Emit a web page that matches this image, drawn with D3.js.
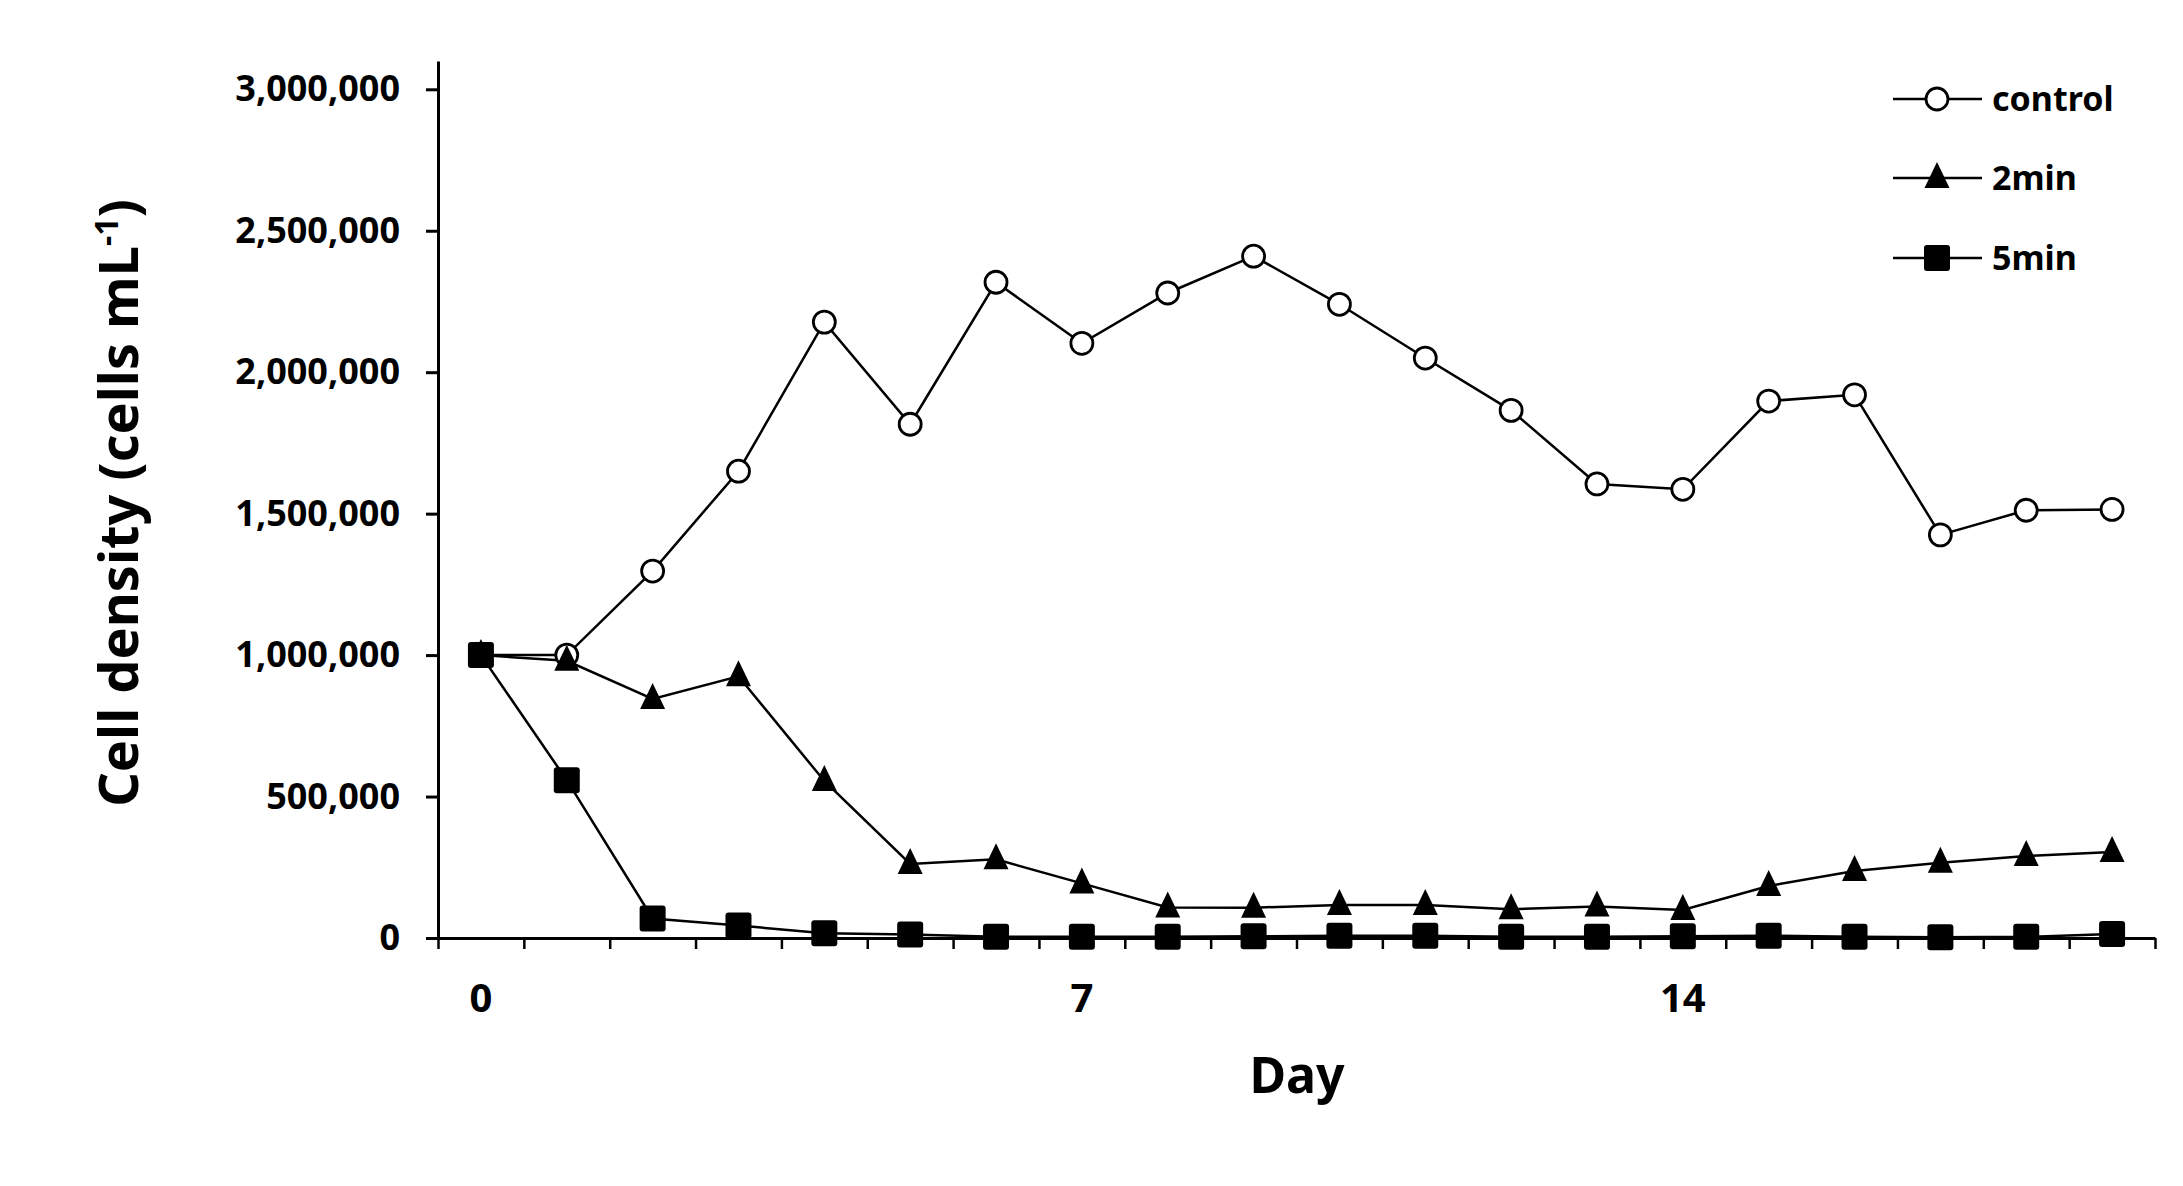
<!DOCTYPE html>
<html>
<head>
<meta charset="utf-8">
<script src="https://cdn.jsdelivr.net/npm/d3@7"></script>
<style>
  body { margin: 0; background: #fff; }
  text { font-family: "Noto Sans", sans-serif; font-weight: bold; fill: #000; }
</style>
</head>
<body>
<div id="chart"></div>
<script>
// days and cell counts
var days = [0, 1, 2, 3, 4, 5, 6, 7, 8, 9, 10, 11, 12, 13, 14, 15, 16, 17, 18, 19];
var control = [1000000, 1000000, 1297000, 1650000, 2177000, 1816000, 2318000, 2102000, 2280000, 2410000,
  2240000, 2050000, 1865000, 1605000, 1586000, 1898000, 1920000, 1425000, 1512000, 1515000];
var min2 = [1000000, 980000, 845000, 925000, 555000, 262000, 278000, 193000, 108000, 107000,
  117000, 117000, 102000, 111000, 99000, 184000, 237000, 266000, 290000, 304000];
var min5 = [1000000, 558000, 69000, 44000, 17000, 12000, 4000, 4000, 4000, 6000,
  8000, 8000, 4000, 4000, 6000, 8000, 4000, 3000, 4000, 14000];
var seriesNames = ["control", "2min", "5min"];
var yTicks = [0, 500000, 1000000, 1500000, 2000000, 2500000, 3000000];
var xLabels = [0, 7, 14];

var width = 2183, height = 1186;
var x0 = 438, x1 = 2155, yBase = 938, yTop = 61;

var svg = d3.select("#chart").append("svg")
  .attr("width", width)
  .attr("height", height);

var x = d3.scaleLinear().domain([-0.5, 19.5]).range([x0, x1]);
var y = d3.scaleLinear().domain([0, 3100000]).range([yBase, yTop]);

// y axis
var yAxis = svg.append("g")
  .attr("transform", "translate(" + x0 + ",0)")
  .call(d3.axisLeft(y).tickValues(yTicks).tickSize(12).tickSizeOuter(0)
    .tickFormat(d3.format(",")));
yAxis.select(".domain").attr("stroke-width", 3);
yAxis.selectAll(".tick line").attr("stroke-width", 3);
yAxis.selectAll(".tick text")
  .attr("x", -38)
  .style("font-size", "36px")
  .style("font-family", "'Noto Sans', sans-serif")
  .style("font-weight", "bold");

// x axis: ticks sit between days
var xTickVals = d3.range(-0.5, 20, 1);
var xAxis = svg.append("g")
  .attr("transform", "translate(0," + yBase + ")")
  .call(d3.axisBottom(x).tickValues(xTickVals).tickSize(11).tickSizeOuter(0).tickFormat(""));
xAxis.select(".domain").attr("stroke-width", 3);
xAxis.selectAll(".tick line").attr("stroke-width", 2.5);

svg.selectAll(".xlab")
  .data(xLabels)
  .enter().append("text")
  .attr("class", "xlab")
  .attr("x", function(d) { return x(d); })
  .attr("y", 1012)
  .attr("text-anchor", "middle")
  .style("font-size", "40px")
  .text(function(d) { return d; });

// axis titles
svg.append("text")
  .attr("x", 1297)
  .attr("y", 1093)
  .attr("text-anchor", "middle")
  .style("font-size", "50px")
  .text("Day");

var yTitle = svg.append("text")
  .attr("transform", "translate(138,503) rotate(-90)")
  .attr("text-anchor", "middle")
  .style("font-size", "54px");
yTitle.append("tspan").text("Cell density (cells mL");
yTitle.append("tspan").attr("dy", -20).style("font-size", "32px").text("-1");
yTitle.append("tspan").attr("dy", 20).text(")");

// markers
function drawMarker(sel, type) {
  if (type === "control") {
    sel.append("circle").attr("r", 11)
      .attr("fill", "#fff").attr("stroke", "#000").attr("stroke-width", 2.8);
  } else if (type === "2min") {
    sel.append("path").attr("d", "M0,-16L12.5,10L-12.5,10Z").attr("fill", "#000");
  } else {
    sel.append("rect").attr("x", -13).attr("y", -13).attr("width", 26).attr("height", 26)
      .attr("rx", 3).attr("fill", "#000");
  }
}

var seriesData = [control, min2, min5];
var line = d3.line()
  .x(function(d, i) { return x(days[i]); })
  .y(function(d) { return y(d); });

seriesData.forEach(function(vals, si) {
  svg.append("path")
    .datum(vals)
    .attr("d", line)
    .attr("fill", "none")
    .attr("stroke", "#000")
    .attr("stroke-width", 2.5);
});

seriesData.forEach(function(vals, si) {
  svg.selectAll(".pt" + si)
    .data(vals)
    .enter().append("g")
    .attr("class", "pt" + si)
    .attr("transform", function(d, i) { return "translate(" + x(days[i]) + "," + y(d) + ")"; })
    .each(function() { drawMarker(d3.select(this), seriesNames[si]); });
});

// legend
var legendY = [99, 178, 258];
var legend = svg.selectAll(".leg")
  .data(seriesNames)
  .enter().append("g")
  .attr("class", "leg")
  .attr("transform", function(d, i) { return "translate(1893," + legendY[i] + ")"; });

legend.append("line")
  .attr("x1", 0).attr("x2", 89)
  .attr("stroke", "#000").attr("stroke-width", 2.5);
legend.append("g")
  .attr("transform", "translate(44,0)")
  .each(function(d) { drawMarker(d3.select(this), d); });
legend.append("text")
  .attr("x", 99)
  .attr("y", 12)
  .style("font-size", "34px")
  .text(function(d) { return d; });
</script>
</body>
</html>
